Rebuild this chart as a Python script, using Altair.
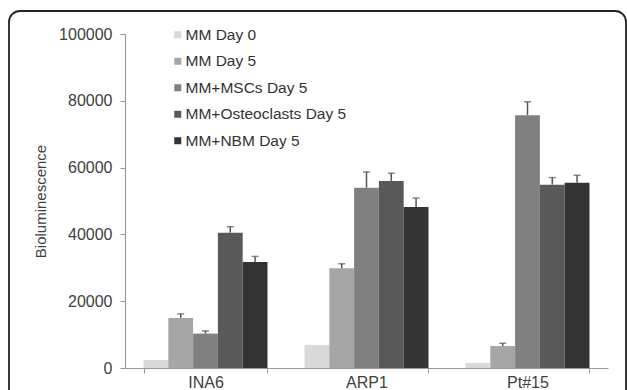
import altair as alt
import pandas as pd

cell_lines = ["INA6", "ARP1", "Pt#15"]
conditions = ["MM Day 0", "MM Day 5", "MM+MSCs Day 5", "MM+Osteoclasts Day 5", "MM+NBM Day 5"]
colors = ["#d9d9d9", "#a6a6a6", "#808080", "#595959", "#333333"]

# values per condition, in the order of cell_lines
mm_day0 = [2400, 6900, 1500]
mm_day5 = [15000, 29900, 6600]
mm_mscs = [10300, 54000, 75700]
mm_osteo = [40500, 56000, 54900]
mm_nbm = [31700, 48200, 55500]

# upper error (SD) per condition
err_day0 = [0, 0, 0]
err_day5 = [1200, 1300, 800]
err_mscs = [800, 4700, 4000]
err_osteo = [1800, 2300, 2100]
err_nbm = [1700, 2700, 2200]

y_ticks = [0, 20000, 40000, 60000, 80000, 100000]

series = [mm_day0, mm_day5, mm_mscs, mm_osteo, mm_nbm]
errors = [err_day0, err_day5, err_mscs, err_osteo, err_nbm]
rows = []
for cond, vals, errs in zip(conditions, series, errors):
    for cl, v, e in zip(cell_lines, vals, errs):
        rows.append({"line": cl, "cond": cond, "value": v, "top": v + e, "err": e})
df = pd.DataFrame(rows)

FONT = "Liberation Sans"
TXT = "#404040"

x_enc = alt.X("line:N", sort=cell_lines,
              scale=alt.Scale(paddingInner=0.23, paddingOuter=0.115),
              axis=alt.Axis(title=None, labelAngle=0, labelFontSize=16, labelColor=TXT,
                            labelFont=FONT, tickBand="extent", tickSize=5,
                            tickColor="#999999", domainColor="#999999", labelPadding=1,
                            domainWidth=1.2))
xo = alt.XOffset("cond:N", sort=conditions, scale=alt.Scale(paddingInner=0, paddingOuter=0))

bars = alt.Chart(df).mark_bar(clip=False).encode(
    x=x_enc,
    xOffset=xo,
    y=alt.Y("value:Q", scale=alt.Scale(domain=[0, 100000], nice=False),
            axis=alt.Axis(title="Bioluminescence", values=y_ticks, grid=False, format="d",
                          labelFontSize=16, labelColor=TXT, labelFont=FONT,
                          titleFontSize=15, titleFontWeight="normal", titleColor=TXT,
                          titleFont=FONT, titlePadding=10,
                          tickSize=5, tickColor="#999999", domainColor="#999999",
                          labelPadding=8, domainWidth=1.2)),
    color=alt.Color("cond:N", sort=conditions,
                    scale=alt.Scale(domain=conditions, range=colors),
                    legend=alt.Legend(title=None, orient="none", legendX=45, legendY=-7,
                                      symbolType="square", symbolSize=49, symbolStrokeWidth=0,
                                      symbolOffset=0,
                                      labelFontSize=15.5, labelColor="#333333",
                                      labelFont=FONT, rowPadding=9.5, labelLimit=400,
                                      labelOffset=0, padding=0)),
)

err_df = df[df["err"] > 0]
rules = alt.Chart(err_df).mark_rule(color="#555555", strokeWidth=1.5).encode(
    x=alt.X("line:N", sort=cell_lines),
    xOffset=xo,
    y="value:Q",
    y2="top:Q",
)
caps = alt.Chart(err_df).mark_tick(color="#555555", thickness=1.5, size=7, orient="horizontal").encode(
    x=alt.X("line:N", sort=cell_lines),
    xOffset=xo,
    y="top:Q",
)

frame = alt.Chart(pd.DataFrame({"k": [0]})).mark_rect(
    fill=None, fillOpacity=0, stroke="#222222", strokeWidth=1.8, cornerRadius=11, clip=False
).encode(
    x=alt.value(-116), x2=alt.value(501), y=alt.value(-23), y2=alt.value(400)
)

chart = alt.layer(frame, bars, rules, caps).properties(
    width=483, height=334,
    autosize=alt.AutoSizeParams(type="none"),
    padding={"left": 125, "top": 34, "right": 19, "bottom": 22},
    background="white",
).configure_view(stroke=None)

chart.save("out.html", embed_options={"renderer": "svg", "actions": False})
